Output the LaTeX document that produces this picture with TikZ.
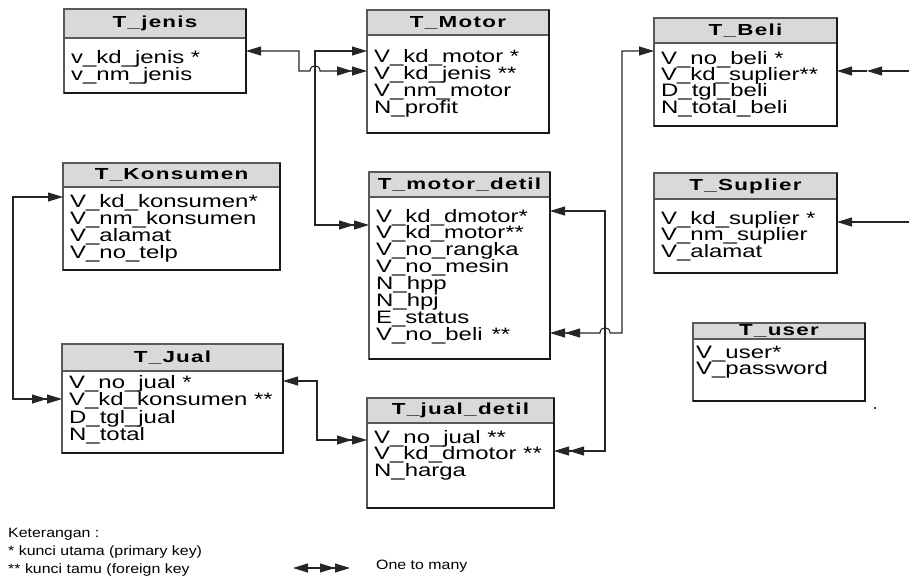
\documentclass[tikz,border=0pt]{standalone}
\usepackage{fontspec}
\setmainfont{Liberation Sans}[FakeStretch=1.33]
\newfontfamily\ttlfont{Liberation Sans}[FakeStretch=1.4,LetterSpace=8]
\newfontfamily\lgfont{Liberation Sans}[FakeStretch=1.18]
\usetikzlibrary{arrows.meta}
\tikzset{
  tblbox/.style={draw=black!65, line width=1.1pt, fill=white, anchor=north west, inner sep=0pt, outer sep=0pt},
  hdr/.style={draw=black!65, line width=1.1pt, fill=black!15, anchor=north west, inner sep=0pt, outer sep=0pt,
    font=\ttlfont\bfseries\fontsize{16}{18}\selectfont},
  edgedark/.style={draw=black!90, line width=1.4pt},
  fld/.style={anchor=base west, inner sep=0pt, font=\fontsize{18}{20}\selectfont},
  lgtext/.style={anchor=base west, inner sep=0pt, font=\lgfont\fontsize{13.5}{15}\selectfont},
  ln/.style={draw=black!85, line width=1.1pt},
  one2many/.style={ln, arrows={Triangle[length=15pt,width=9pt]-Triangle[length=15pt,width=9pt]Triangle[length=15pt,width=9pt]}},
  onetip/.style={ln, arrows={-Triangle[length=15pt,width=9pt]}}
}
\newcommand\erTable[7]{%
  \node[tblbox, minimum width={(#4-#2)*1pt}, minimum height={(#6-#3)*1pt}] (#1) at (#2,#3) {};
  \node[hdr, minimum width={(#4-#2)*1pt}, minimum height={(#5-#3)*1pt}] (#1-h) at (#2,#3) {#7};
  \draw[edgedark] (#1.north east) -- (#1.south east) -- (#1.south west);
}
\newcommand\erFields[5]{%
  \foreach \fldtxt [count=\rowi] in {#5} {\node[fld] (#1-\rowi) at (#2, {#3+(\rowi-1)*#4}) {\fldtxt};}
}
\begin{document}
\begin{tikzpicture}[x=1pt,y=-1pt]
\useasboundingbox (0,0) rectangle (909,586);
% tables
\erTable{jenis}{64}{9}{246}{38}{93}{T\_jenis}
\erFields{jenis}{71}{63.5}{16.5}{v\_kd\_jenis *, v\_nm\_jenis}
\erTable{motor}{367}{10}{549}{35}{133}{T\_Motor}
\erFields{motor}{374}{63}{16.7}{V\_kd\_motor *, V\_kd\_jenis **, V\_nm\_motor, N\_profit}
\erTable{beli}{654}{18}{837}{43}{126}{T\_Beli}
\erFields{beli}{661}{64}{16.4}{V\_no\_beli *, V\_kd\_suplier**, D\_tgl\_beli, N\_total\_beli}
\erTable{konsumen}{63}{163}{280}{187}{270}{T\_Konsumen}
\erFields{konsumen}{70}{207}{17.3}{V\_kd\_konsumen*, V\_nm\_konsumen, V\_alamat, V\_no\_telp}
\erTable{detil}{369}{172}{550}{197}{359}{T\_motor\_detil}
\erFields{detil}{376}{222}{16.9}{V\_kd\_dmotor*, V\_kd\_motor**, V\_no\_rangka, V\_no\_mesin, N\_hpp, N\_hpj, E\_status, V\_no\_beli\enspace**}
\erTable{suplier}{654}{173}{837}{199}{273}{T\_Suplier}
\erFields{suplier}{661}{224}{16.5}{V\_kd\_suplier *, V\_nm\_suplier, V\_alamat}
\erTable{user}{693}{323}{865}{339}{401}{T\_user}
\erFields{user}{696}{358}{16.5}{V\_user*, V\_password}
\erTable{jual}{62}{344}{283}{371}{453}{T\_Jual}
\erFields{jual}{69}{388}{17.5}{V\_no\_jual *, V\_kd\_konsumen **, D\_tgl\_jual, N\_total}
\erTable{jd}{367}{398}{554}{423}{508}{T\_jual\_detil}
\erFields{jd}{374}{443}{16.5}{V\_no\_jual **, V\_kd\_dmotor **, N\_harga}
% connectors
\draw[one2many] ([yshift=-41pt]motor.north west) -| (315,225) -- ([yshift=-53pt]detil.north west);
\draw[one2many] ([yshift=-42pt]jenis.north east) -| (299,71) -- (310,71)
  .. controls (310,64) and (320,64) .. (320,71) -- ([yshift=-61pt]motor.north west);
\draw[one2many] ([yshift=-34pt]konsumen.north west) -| (13,399) -- ([yshift=-55pt]jual.north west);
\draw[one2many] ([yshift=-37pt]jual.north east) -| (317,440) -- ([yshift=-42pt]jd.north west);
\draw[one2many] ([yshift=-39pt]detil.north east) -| (605,451) -- ([yshift=-53pt]jd.north east);
\draw[one2many] ([yshift=-33pt]beli.north west) -| (622,333) -- (610,333)
  .. controls (610,326) and (600,326) .. (600,333) -- ([yshift=-161pt]detil.north east);
\coordinate (beliExt) at (909,71);
\coordinate (beliMid) at (867,71);
\draw[onetip] (beliExt) -- (beliMid);
\draw[onetip] (beliMid) -- ([yshift=-53pt]beli.north east);
\coordinate (supExt) at (909,222);
\draw[onetip] (supExt) -- ([yshift=-49pt]suplier.north east);
\fill (875,408) circle (1.2pt);
% legend
\node[lgtext] (ket) at (8,537) {Keterangan :};
\node[lgtext] (pk) at (8,555) {* kunci utama (primary key)};
\node[lgtext] (fk) at (8,573) {** kunci tamu (foreign key};
\node[lgtext] (otm) at (376,569) {One to many};
\coordinate (lgA) at (293,568);
\coordinate (lgB) at (350,568);
\draw[one2many] (lgA) -- (lgB);
\end{tikzpicture}
\end{document}
